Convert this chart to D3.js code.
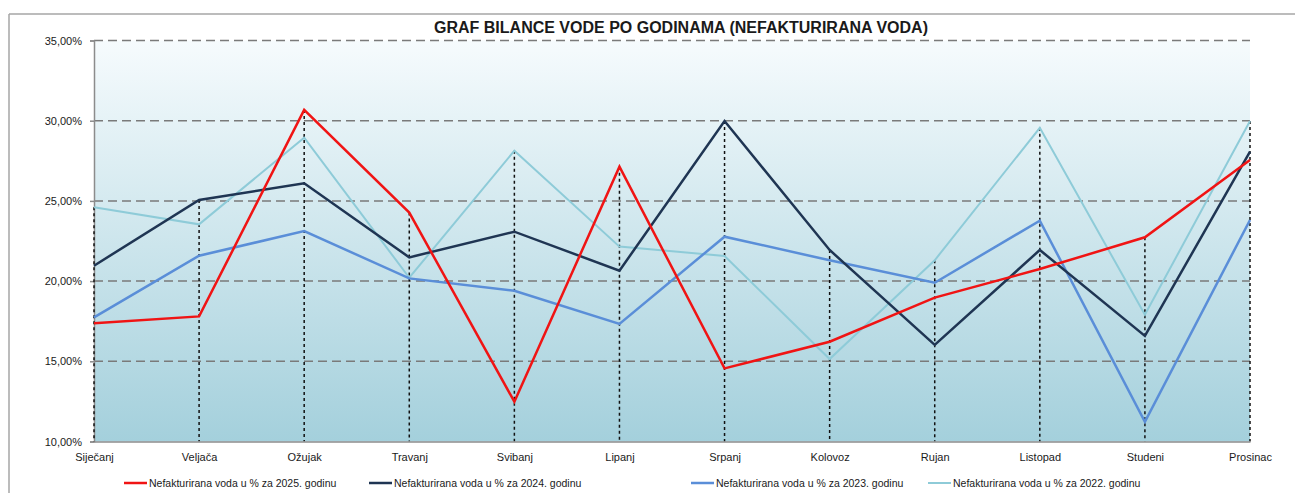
<!DOCTYPE html>
<html>
<head>
<meta charset="utf-8">
<script src="https://cdn.jsdelivr.net/npm/d3@7"></script>
<style>
  body { margin: 0; background: #fff; }
  svg text { font-family: "Liberation Sans", Arial, sans-serif; fill: #1a1a1a; }
</style>
</head>
<body>
<div id="chart"></div>
<script>
// mjeseci (kategorije)
const months = ["Siječanj", "Veljača", "Ožujak", "Travanj", "Svibanj", "Lipanj",
                "Srpanj", "Kolovoz", "Rujan", "Listopad", "Studeni", "Prosinac"];

// nefakturirana voda u % po godinama
const v2025 = [17.37, 17.80, 30.67, 24.27, 12.48, 27.13, 14.56, 16.22, 18.97, 20.75, 22.73, 27.55];
const v2024 = [20.96, 25.06, 26.10, 21.48, 23.08, 20.65, 29.98, 21.94, 16.02, 21.94, 16.58, 28.07];
const v2023 = [17.74, 21.58, 23.12, 20.17, 19.40, 17.33, 22.77, 21.30, 19.90, 23.77, 11.23, 23.81];
const v2022 = [24.60, 23.54, 28.94, 20.21, 28.13, 22.15, 21.57, 15.14, 21.30, 29.56, 17.90, 29.98];

const seriesNames = ["Nefakturirana voda u % za 2025. godinu",
                     "Nefakturirana voda u % za 2024. godinu",
                     "Nefakturirana voda u % za 2023. godinu",
                     "Nefakturirana voda u % za 2022. godinu"];

const yTicks = [10, 15, 20, 25, 30, 35];

const title = "GRAF BILANCE VODE PO GODINAMA (NEFAKTURIRANA VODA)";

document.addEventListener("DOMContentLoaded", function () {

    const W = 1295, H = 493;
    const plot = {left: 94, right: 1250, top: 40.5, bottom: 441.5};

    const svg = d3.select("#chart")
        .append("svg")
        .attr("width", W)
        .attr("height", H);

    const series = [
        {name: seriesNames[0], values: v2025, color: "#f01414", width: 2.5},
        {name: seriesNames[1], values: v2024, color: "#1f3553", width: 2.5},
        {name: seriesNames[2], values: v2023, color: "#5a8ed8", width: 2.5},
        {name: seriesNames[3], values: v2022, color: "#8ecbd8", width: 2}
    ];

    const x = d3.scalePoint()
        .domain(months)
        .range([plot.left, plot.right]);

    const y = d3.scaleLinear()
        .domain([10, 35])
        .range([plot.bottom, plot.top]);

    const hr = d3.formatLocale({decimal: ",", thousands: ".", grouping: [3], currency: ["", " €"]});
    const pct = hr.format(".2%");

    // okvir (rub lista)
    svg.append("line")
        .attr("x1", 9).attr("x2", W).attr("y1", 14).attr("y2", 14)
        .attr("stroke", "#a6a6a6").attr("stroke-width", 1.5);
    svg.append("line")
        .attr("x1", 9).attr("x2", 9).attr("y1", 14).attr("y2", H)
        .attr("stroke", "#a6a6a6").attr("stroke-width", 1.5);

    // pozadina grafa - gradijent
    const grad = svg.append("defs").append("linearGradient")
        .attr("id", "bg-grad")
        .attr("x1", 0).attr("y1", 0).attr("x2", 0).attr("y2", 1);
    grad.append("stop").attr("offset", "0%").attr("stop-color", "#f6fbfd");
    grad.append("stop").attr("offset", "100%").attr("stop-color", "#a4d0dc");

    svg.append("rect")
        .attr("x", plot.left).attr("y", plot.top)
        .attr("width", plot.right - plot.left)
        .attr("height", plot.bottom - plot.top)
        .attr("fill", "url(#bg-grad)");

    // horizontalne linije
    svg.append("g")
        .selectAll("line")
        .data(yTicks.filter(d => d > 10))
        .join("line")
        .attr("x1", plot.left).attr("x2", plot.right)
        .attr("y1", d => y(d)).attr("y2", d => y(d))
        .attr("stroke", "#7a7a7a")
        .attr("stroke-width", 1.5)
        .attr("stroke-dasharray", "9,5");

    // y os
    const yAxis = svg.append("g")
        .attr("transform", `translate(${plot.left},0)`)
        .call(d3.axisLeft(y).tickValues(yTicks).tickFormat(d => pct(d / 100)).tickSize(4).tickPadding(8));
    yAxis.select(".domain").attr("stroke", "#8c8c8c").attr("stroke-width", 1.5);
    yAxis.selectAll(".tick line").attr("stroke", "#8c8c8c").attr("stroke-width", 1.5);
    yAxis.selectAll("text").style("font-size", "11px").attr("fill", "#1a1a1a");

    // okomite linije (od najvise tocke do osi)
    svg.append("g")
        .selectAll("line")
        .data(months)
        .join("line")
        .attr("x1", d => x(d)).attr("x2", d => x(d))
        .attr("y1", (d, i) => y(d3.max(series, s => s.values[i])))
        .attr("y2", plot.bottom)
        .attr("stroke", "#111")
        .attr("stroke-width", 1.5)
        .attr("stroke-dasharray", "3,3");

    // x os
    const xAxis = svg.append("g")
        .attr("transform", `translate(0,${plot.bottom})`)
        .call(d3.axisBottom(x).tickSize(0).tickPadding(12));
    xAxis.select(".domain").attr("stroke", "#8c8c8c").attr("stroke-width", 1.5);
    xAxis.selectAll("text").style("font-size", "11px").attr("fill", "#1a1a1a");

    // linije serija
    const line = d3.line()
        .x((d, i) => x(months[i]))
        .y(d => y(d));

    svg.append("g")
        .selectAll("path")
        .data(series.slice().reverse())
        .join("path")
        .attr("fill", "none")
        .attr("stroke", d => d.color)
        .attr("stroke-width", d => d.width)
        .attr("stroke-linejoin", "miter")
        .attr("d", d => line(d.values));

    // naslov
    svg.append("text")
        .attr("x", 681)
        .attr("y", 33)
        .attr("text-anchor", "middle")
        .style("font-size", "16px")
        .style("font-weight", "bold")
        .text(title);

    // legenda (pozicije stavki kao u Excelu)
    const legendX = [124, 369, 691, 928];
    const items = svg.append("g")
        .attr("transform", "translate(0,483)")
        .selectAll("g")
        .data(series)
        .join("g")
        .attr("transform", (d, i) => `translate(${legendX[i]},0)`);
    items.append("line")
        .attr("x1", 0).attr("x2", 23)
        .attr("y1", 0).attr("y2", 0)
        .attr("stroke", d => d.color)
        .attr("stroke-width", d => d.width);
    items.append("text")
        .attr("x", 25)
        .attr("dy", "0.35em")
        .style("font-size", "10.5px")
        .text(d => d.name);
});
</script>
</body>
</html>
